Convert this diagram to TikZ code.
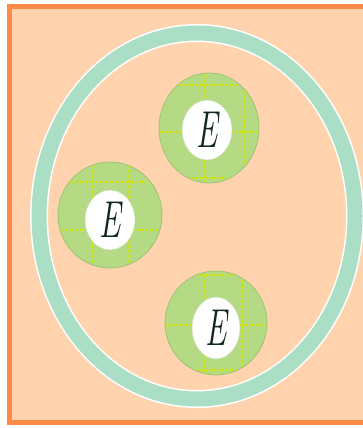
\documentclass[tikz,border=0pt]{standalone}
\usepackage{tikz}
\usetikzlibrary{shapes.geometric}

\definecolor{framecol}{HTML}{FF8A48}
\definecolor{peach}{HTML}{FFD3AE}
\definecolor{ringcol}{HTML}{AADFC6}
\definecolor{cellgreen}{HTML}{B4DA84}
\definecolor{celledge}{HTML}{9CC472}
\definecolor{griddash}{HTML}{D2E400}
\definecolor{letter}{HTML}{12281C}

\tikzset{
  cellwall/.style={ellipse, fill=cellgreen, draw=celledge, line width=0.8pt, inner sep=0pt},
  nucleus/.style={ellipse, fill=white, draw=celledge!60, line width=0.5pt, inner sep=0pt,
    text=letter, font=\fontsize{52}{52}\selectfont\itshape},
  gridline/.style={griddash, line width=1.1pt, dash pattern=on 3pt off 2pt}
}

\begin{document}
\begin{tikzpicture}[x=1pt, y=-1pt]
\clip (0,0) rectangle (363,428);
\fill[white] (0,0) rectangle (363,428);
\fill[framecol] (7,4) rectangle (375,425);
\fill[peach] (12,9) rectangle (375,420);

% outer membrane
\draw[white, line width=18pt] (197,216) ellipse [x radius=158, y radius=183];
\draw[ringcol, line width=15pt] (197,216) ellipse [x radius=158, y radius=183];

% cells
\node[cellwall, minimum width=100pt, minimum height=110pt] (wallA) at (209,128) {};
\node[cellwall, minimum width=104pt, minimum height=106pt] (wallB) at (110,215) {};
\node[cellwall, minimum width=102pt, minimum height=104pt] (wallC) at (216,323) {};

\begin{scope}
\clip (209,128) ellipse [x radius=49, y radius=54];
\draw[gridline] (205,60) -- (205,200);
\draw[gridline] (245,60) -- (245,200);
\draw[gridline] (150,85) -- (270,85);
\draw[gridline] (150,132) -- (270,132);
\draw[gridline] (150,178) -- (270,178);
\end{scope}
\begin{scope}
\clip (110,215) ellipse [x radius=51, y radius=52];
\draw[gridline] (93,150) -- (93,280);
\draw[gridline] (128,150) -- (128,280);
\draw[gridline] (50,182) -- (170,182);
\draw[gridline] (50,230) -- (170,230);
\end{scope}
\begin{scope}
\clip (216,323) ellipse [x radius=50, y radius=51];
\draw[gridline] (205,260) -- (205,390);
\draw[gridline] (242,260) -- (242,390);
\draw[gridline] (150,275) -- (280,275);
\draw[gridline] (150,325) -- (280,325);
\draw[gridline] (150,370) -- (280,370);
\end{scope}

\node[nucleus, minimum width=50pt, minimum height=60pt] (cellA) at (207,130) {\scalebox{0.62}[1]{E}};
\node[nucleus, minimum width=50pt, minimum height=60pt] (cellB) at (110,220) {\scalebox{0.62}[1]{E}};
\node[nucleus, minimum width=48pt, minimum height=62pt] (cellC) at (216,328) {\scalebox{0.62}[1]{E}};
\end{tikzpicture}
\end{document}
